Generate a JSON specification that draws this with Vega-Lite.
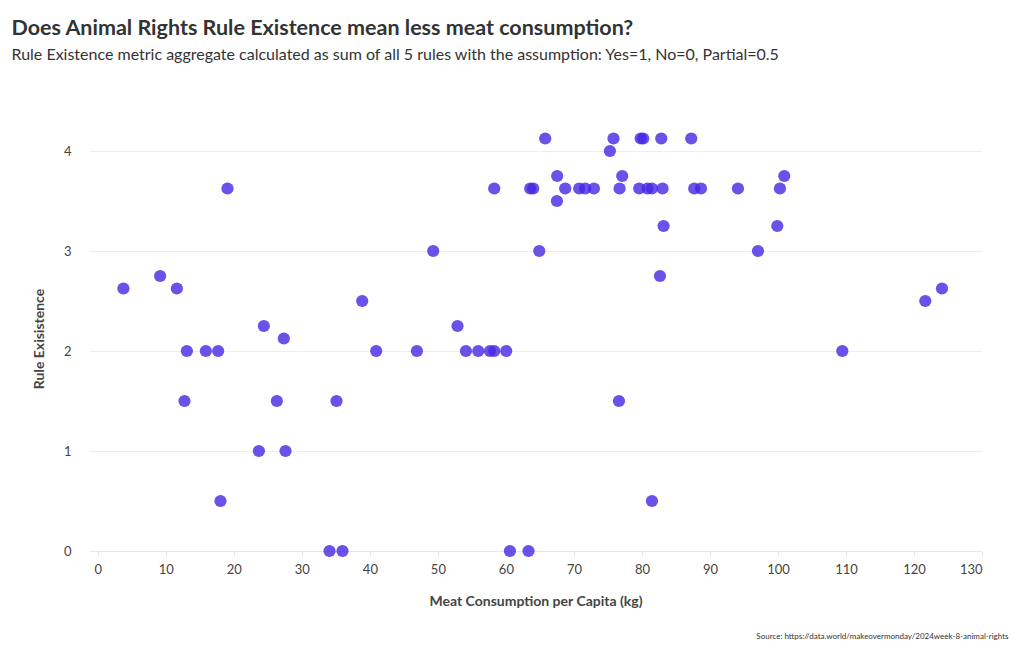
{
  "$schema": "https://vega.github.io/schema/vega-lite/v6.json",
  "width": 893,
  "height": 425,
  "padding": {"left": 11, "top": 17, "right": 10, "bottom": 5},
  "background": "white",
  "title": {
    "text": "Does Animal Rights Rule Existence mean less meat consumption?",
    "subtitle": "Rule Existence metric aggregate calculated as sum of all 5 rules with the assumption: Yes=1, No=0, Partial=0.5",
    "anchor": "start",
    "frame": "bounds",
    "dx": -21,
    "font": "Lato",
    "fontSize": 21.5,
    "fontWeight": "bold",
    "color": "#333333",
    "subtitleFont": "Lato",
    "subtitleFontSize": 16,
    "subtitleColor": "#333333",
    "subtitlePadding": 8,
    "offset": 63
  },
  "config": {
    "view": {"stroke": null},
    "font": "Lato"
  },
  "data": {
    "values": [
      {"meat": 3.76, "rules": 2.625},
      {"meat": 9.16, "rules": 2.75},
      {"meat": 11.62, "rules": 2.625},
      {"meat": 12.74, "rules": 1.5},
      {"meat": 13.09, "rules": 2},
      {"meat": 15.88, "rules": 2},
      {"meat": 17.69, "rules": 2},
      {"meat": 18.03, "rules": 0.5},
      {"meat": 19.06, "rules": 3.625},
      {"meat": 23.68, "rules": 1},
      {"meat": 24.41, "rules": 2.25},
      {"meat": 26.32, "rules": 1.5},
      {"meat": 27.35, "rules": 2.125},
      {"meat": 27.59, "rules": 1},
      {"meat": 34.06, "rules": 0},
      {"meat": 35.97, "rules": 0},
      {"meat": 35.09, "rules": 1.5},
      {"meat": 38.87, "rules": 2.5},
      {"meat": 40.93, "rules": 2},
      {"meat": 46.91, "rules": 2},
      {"meat": 49.31, "rules": 3},
      {"meat": 52.88, "rules": 2.25},
      {"meat": 54.12, "rules": 2},
      {"meat": 55.93, "rules": 2},
      {"meat": 57.65, "rules": 2},
      {"meat": 58.28, "rules": 2},
      {"meat": 60.04, "rules": 2},
      {"meat": 58.28, "rules": 3.625},
      {"meat": 60.59, "rules": 0},
      {"meat": 63.32, "rules": 0},
      {"meat": 63.57, "rules": 3.625},
      {"meat": 64.01, "rules": 3.625},
      {"meat": 64.9, "rules": 3},
      {"meat": 65.78, "rules": 4.125},
      {"meat": 67.54, "rules": 3.75},
      {"meat": 67.5, "rules": 3.5},
      {"meat": 68.72, "rules": 3.625},
      {"meat": 70.78, "rules": 3.625},
      {"meat": 71.66, "rules": 3.625},
      {"meat": 72.94, "rules": 3.625},
      {"meat": 75.29, "rules": 4},
      {"meat": 75.82, "rules": 4.125},
      {"meat": 76.71, "rules": 3.625},
      {"meat": 76.62, "rules": 1.5},
      {"meat": 77.1, "rules": 3.75},
      {"meat": 79.6, "rules": 3.625},
      {"meat": 79.82, "rules": 4.125},
      {"meat": 80.19, "rules": 4.125},
      {"meat": 80.82, "rules": 3.625},
      {"meat": 81.47, "rules": 3.625},
      {"meat": 83.03, "rules": 3.625},
      {"meat": 81.47, "rules": 0.5},
      {"meat": 82.84, "rules": 4.125},
      {"meat": 82.65, "rules": 2.75},
      {"meat": 83.18, "rules": 3.25},
      {"meat": 87.25, "rules": 4.125},
      {"meat": 87.69, "rules": 3.625},
      {"meat": 88.68, "rules": 3.625},
      {"meat": 94.12, "rules": 3.625},
      {"meat": 97.06, "rules": 3},
      {"meat": 99.9, "rules": 3.25},
      {"meat": 100.29, "rules": 3.625},
      {"meat": 100.93, "rules": 3.75},
      {"meat": 109.46, "rules": 2},
      {"meat": 121.66, "rules": 2.5},
      {"meat": 124.12, "rules": 2.625}
    ]
  },
  "layer": [
    {
      "mark": {"type": "circle", "size": 150, "color": "#4527e3", "opacity": 0.8},
      "encoding": {
        "x": {
          "field": "meat",
          "type": "quantitative",
          "scale": {"domain": [-1.3, 130], "nice": false, "zero": false},
          "axis": {
            "title": "Meat Consumption per Capita (kg)",
            "values": [0, 10, 20, 30, 40, 50, 60, 70, 80, 90, 100, 110, 120, 130],
            "format": "d",
            "grid": false,
            "domainColor": "#e6e6e6",
            "tickColor": "#e6e6e6",
            "tickSize": 5,
            "labelPadding": 7,
            "labelFont": "Lato",
            "labelFontSize": 13,
            "labelColor": "#444444",
            "titleFont": "Lato",
            "titleFontSize": 14,
            "titleFontWeight": "bold",
            "titleColor": "#444444",
            "titlePadding": 18
          }
        },
        "y": {
          "field": "rules",
          "type": "quantitative",
          "scale": {"domain": [0, 4.25], "nice": false},
          "axis": {
            "title": "Rule Exisistence",
            "values": [0, 1, 2, 3, 4],
            "format": "d",
            "domain": false,
            "ticks": false,
            "tickSize": 0,
            "gridColor": "#eeeeee",
            "labelPadding": 18,
            "labelFont": "Lato",
            "labelFontSize": 13,
            "labelColor": "#444444",
            "titleFont": "Lato",
            "titleFontSize": 14,
            "titleFontWeight": "bold",
            "titleColor": "#444444",
            "titlePadding": 17
          }
        }
      }
    },
    {
      "data": {"values": [{"label": "Source: https://data.world/makeovermonday/2024week-8-animal-rights", "sx": 133.9, "sy": -0.86}]},
      "mark": {"type": "text", "align": "right", "baseline": "middle", "fontSize": 8, "color": "#333333", "font": "Lato", "clip": false},
      "encoding": {
        "x": {"field": "sx", "type": "quantitative"},
        "y": {"field": "sy", "type": "quantitative"},
        "text": {"field": "label"}
      }
    }
  ]
}
